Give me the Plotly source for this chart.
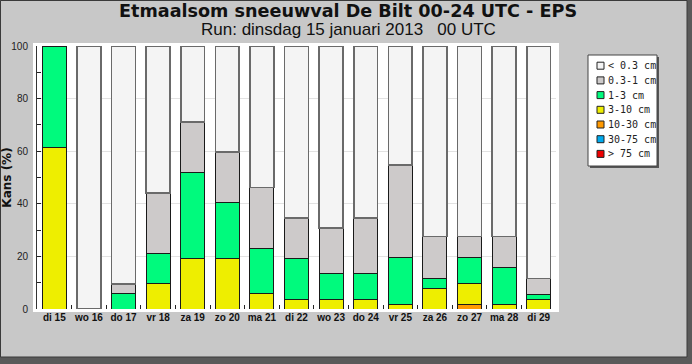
import plotly.graph_objects as go

# ---------------- data ----------------
categories = ["di 15", "wo 16", "do 17", "vr 18", "za 19", "zo 20", "ma 21", "di 22",
              "wo 23", "do 24", "vr 25", "za 26", "zo 27", "ma 28", "di 29"]

class_labels = ["< 0.3 cm", "0.3-1 cm", "1-3 cm", "3-10 cm", "10-30 cm", "30-75 cm", "> 75 cm"]

p_gt75   = [0, 0, 0, 0, 0, 0, 0, 0, 0, 0, 0, 0, 0, 0, 0]
p_30_75  = [0, 0, 0, 0, 0, 0, 0, 0, 0, 0, 0, 0, 0, 0, 0]
p_10_30  = [0, 0, 0, 0, 0, 0, 0, 0, 0, 0, 0, 0, 1.9, 0, 0]
p_3_10   = [61.5, 0, 0, 9.6, 19.2, 19.2, 5.8, 3.8, 3.8, 3.8, 1.9, 7.7, 7.7, 1.9, 3.8]
p_1_3    = [38.5, 0, 5.8, 11.6, 32.7, 21.2, 17.3, 15.4, 9.7, 9.7, 17.7, 3.8, 10.0, 13.9, 1.9]
p_03_1   = [0, 0, 3.8, 23.0, 19.3, 19.2, 23.1, 15.4, 17.3, 21.1, 35.2, 16.1, 8.0, 11.8, 5.9]
p_lt03   = [0, 100, 90.4, 55.8, 28.8, 40.4, 53.8, 65.4, 69.2, 65.4, 45.2, 72.4, 72.4, 72.4, 88.4]

y_tickvals = [0, 20, 40, 60, 80, 100]

# ---------------- style ----------------
W, H = 692, 364
L, R, T, B = 37, 556, 46, 309   # plot area in pixels

def px(x):
    return (x - L) / (R - L)

def py(y):
    return (B - y) / (B - T)

colors = ["#f4f4f4", "#cdcaca", "#00fa7d", "#eeee00", "#ff9900", "#00aaee", "#ee0000"]
series = [p_lt03, p_03_1, p_1_3, p_3_10, p_10_30, p_30_75, p_gt75]

fig = go.Figure()
# stack from bottom (largest amount) to top (< 0.3 cm)
for name, vals, col in reversed(list(zip(class_labels, series, colors))):
    is_white = name == class_labels[0]
    fig.add_trace(go.Bar(
        x=categories,
        y=[v if v else None for v in vals],
        name=name,
        marker=dict(color=col,
                    line=dict(color="#6a6a6a" if is_white else "#1a1a1a",
                              width=1.6 if is_white else 1)),
        showlegend=False,
    ))

shapes = []
annotations = []

# outer frame with shadow
shapes.append(dict(type="rect", xref="paper", yref="paper",
                   x0=px(0.5), x1=px(687), y0=py(357), y1=py(0.5),
                   fillcolor="#c8c8c8", line=dict(color="#3a3a3a", width=1), layer="below"))
# white frame around plot area
shapes.append(dict(type="rect", xref="paper", yref="paper",
                   x0=px(33), x1=px(559), y0=py(312), y1=py(43),
                   fillcolor="#ffffff", line=dict(width=0), layer="below"))

# legend box (shadow + box)
lx0, lx1, ly0, ly1 = 588, 657, 55, 166
shapes.append(dict(type="rect", xref="paper", yref="paper",
                   x0=px(lx0 + 2), x1=px(lx1 + 2), y0=py(ly1 + 2), y1=py(ly0 + 2),
                   fillcolor="#555555", line=dict(width=0)))
shapes.append(dict(type="rect", xref="paper", yref="paper",
                   x0=px(lx0), x1=px(lx1), y0=py(ly1), y1=py(ly0),
                   fillcolor="#ffffff", line=dict(color="#444444", width=1)))
row0, step = 65.7, 14.7
for i, (lab, col) in enumerate(zip(class_labels, colors)):
    cy = row0 + i * step
    shapes.append(dict(type="rect", xref="paper", yref="paper",
                       x0=px(597), x1=px(604), y0=py(cy + 3.5), y1=py(cy - 3.5),
                       fillcolor=col, line=dict(color="#222222", width=1)))
    annotations.append(dict(xref="paper", yref="paper", x=px(605.5), y=py(cy),
                            text=lab, showarrow=False, xanchor="left", yanchor="middle",
                            font=dict(family="DejaVu Sans Mono", size=10, color="#222222")))

# titles
annotations.append(dict(xref="paper", yref="paper", x=px(348), y=py(11.5),
                        text="<b>Etmaalsom sneeuwval De Bilt 00-24 UTC - EPS</b>",
                        showarrow=False, xanchor="center", yanchor="middle",
                        font=dict(family="DejaVu Sans", size=17.6, color="#111111")))
annotations.append(dict(xref="paper", yref="paper", x=px(348.5), y=py(29),
                        text="Run: dinsdag 15 januari 2013\u00a0\u00a0\u00a000 UTC",
                        showarrow=False, xanchor="center", yanchor="middle",
                        font=dict(family="Liberation Sans", size=17, color="#111111")))

fig.update_layout(
    width=W, height=H,
    margin=dict(l=L, r=W - R, t=T, b=H - B, pad=0),
    barmode="stack",
    bargap=0.31,
    paper_bgcolor="#5a5a5a",
    plot_bgcolor="#ffffff",
    shapes=shapes,
    annotations=annotations,
    showlegend=False,
)
fig.update_xaxes(
    type="category",
    automargin=False,
    tickangle=0,
    tickfont=dict(family="Liberation Sans", size=10, color="#111111"),
    tickprefix="<b>", ticksuffix="</b>",
    ticks="inside", tickson="boundaries", ticklen=4, tickcolor="#222222",
    ticklabelstandoff=1,
    showline=False, showgrid=False, zeroline=False,
)
fig.update_yaxes(
    range=[0, 100],
    automargin=False,
    tickvals=y_tickvals,
    tickfont=dict(family="Liberation Sans", size=10, color="#222222"),
    ticks="inside", ticklen=4, tickcolor="#222222",
    minor=dict(dtick=10, tick0=0, ticks="inside", ticklen=4, tickcolor="#222222", showgrid=False),
    ticklabelstandoff=6,
    showline=True, linecolor="#333333", linewidth=1,
    showgrid=True, gridcolor="#e2e2e2", gridwidth=1,
    zeroline=False,
    title=dict(text="<b>Kans (%)</b>", font=dict(family="DejaVu Sans", size=12, color="#111111"),
               standoff=8),
)

fig.write_html("out.html",
               config={"displayModeBar": False},
               post_script="document.body.style.margin='0';document.body.style.overflow='hidden';")
